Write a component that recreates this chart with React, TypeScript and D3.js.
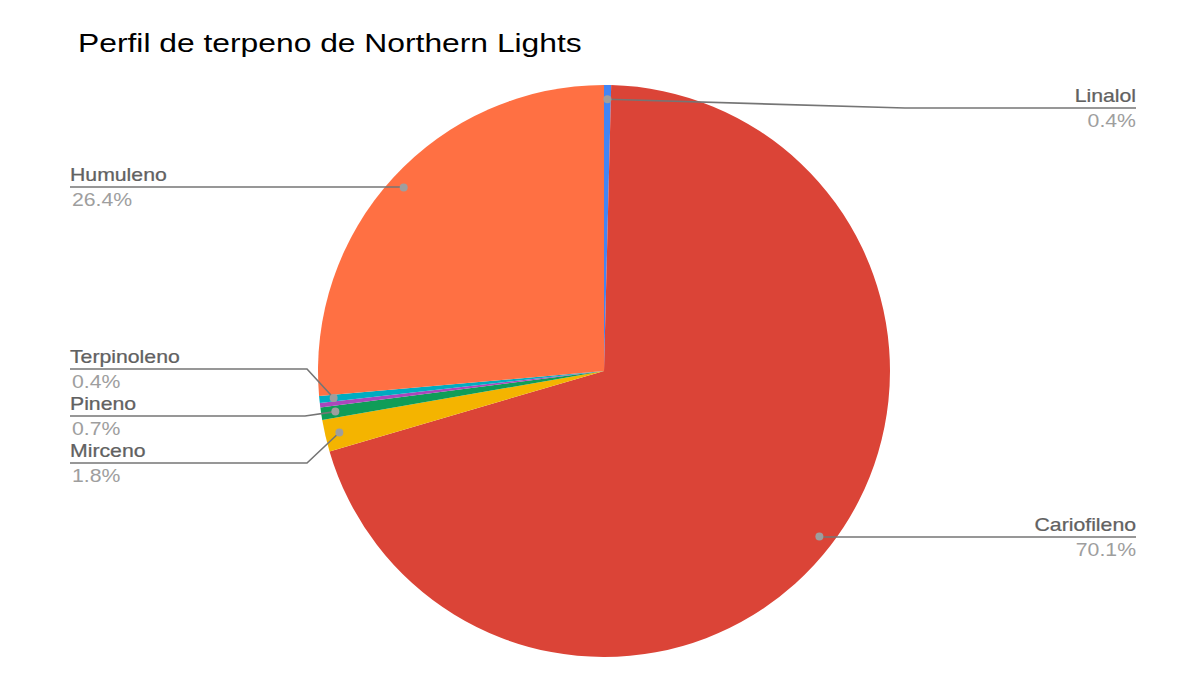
import React from "react";
import * as d3 from "d3";

const terpenes = ["Linalol", "Cariofileno", "Mirceno", "Pineno", "Limoneno", "Terpinoleno", "Humuleno"];
const shares = [0.4, 70.1, 1.8, 0.7, 0.25, 0.4, 26.4];
const sliceColors = ["#4285f4", "#db4437", "#f4b400", "#0f9d58", "#ab47bc", "#00acc1", "#ff7043"];
const labelled = ["Linalol", "Cariofileno", "Mirceno", "Pineno", "Terpinoleno", "Humuleno"];

const title = "Perfil de terpeno de Northern Lights";

// leader line layout for each callout
const calloutLayout: Record<string, { side: "left" | "right"; lineY: number; elbowX?: number }> = {
  Linalol: { side: "right", lineY: 108, elbowX: 905 },
  Cariofileno: { side: "right", lineY: 537 },
  Humuleno: { side: "left", lineY: 187 },
  Terpinoleno: { side: "left", lineY: 369, elbowX: 307 },
  Pineno: { side: "left", lineY: 416, elbowX: 305 },
  Mirceno: { side: "left", lineY: 463, elbowX: 307 },
};

const width = 1200;
const height = 679;
const cx = 604;
const cy = 371;
const radius = 286;
const leftEdge = 70;
const rightEdge = 1136;
const stretch = 1.18;

type Row = { name: string; value: number; color: string };

const App: React.FC = () => {
  const rows: Row[] = terpenes.map((name, i) => ({ name, value: shares[i], color: sliceColors[i] }));
  const total = d3.sum(shares);

  const pie = d3
    .pie<Row>()
    .sort(null)
    .value((d) => d.value);
  const arcs = pie(rows);

  const arc = d3.arc<d3.PieArcDatum<Row>>().innerRadius(0).outerRadius(radius);

  // callout dots sit just inside the rim
  const dotArc = d3
    .arc<d3.PieArcDatum<Row>>()
    .innerRadius(radius * 0.95)
    .outerRadius(radius * 0.95);

  const fmt = (v: number) => `${((v / total) * 100).toFixed(1)}%`;

  return (
    <svg
      width={width}
      height={height}
      style={{ position: "absolute", left: 0, top: 0, background: "#fff" }}
      fontFamily="'Liberation Sans', Arial, sans-serif"
    >
      <text transform={`translate(78,52) scale(1.2,1)`} fontSize={26.5} fill="#000">
        {title}
      </text>

      <g transform={`translate(${cx},${cy})`}>
        {arcs.map((a) => (
          <path key={a.data.name} d={arc(a) || ""} fill={a.data.color} />
        ))}
      </g>

      {arcs
        .filter((a) => labelled.includes(a.data.name))
        .map((a) => {
          const layout = calloutLayout[a.data.name];
          const [px, py] = dotArc.centroid(a);
          const dx = cx + px;
          const dy = cy + py;
          const endX = layout.side === "right" ? rightEdge : leftEdge;
          const pts: [number, number][] = [[dx, dy]];
          if (layout.elbowX !== undefined) pts.push([layout.elbowX, layout.lineY]);
          else pts.push([dx, layout.lineY]);
          pts.push([endX, layout.lineY]);
          const anchor = layout.side === "right" ? "end" : "start";
          return (
            <g key={a.data.name}>
              <path
                d={d3.line()(pts) || ""}
                fill="none"
                stroke="#757575"
                strokeWidth={1.6}
              />
              <circle cx={dx} cy={dy} r={4} fill="#9e9e9e" />
              <text
                transform={`translate(${endX},${layout.lineY - 6}) scale(${stretch},1)`}
                textAnchor={anchor}
                fontSize={18}
                fill="#616161"
                stroke="#616161"
                strokeWidth={0.25}
              >
                {a.data.name}
              </text>
              <text
                transform={`translate(${layout.side === "right" ? endX : endX + 2},${layout.lineY + 19}) scale(${stretch},1)`}
                textAnchor={anchor}
                fontSize={18}
                fill="#9e9e9e"
              >
                {fmt(a.data.value)}
              </text>
            </g>
          );
        })}
    </svg>
  );
};

export default App;
